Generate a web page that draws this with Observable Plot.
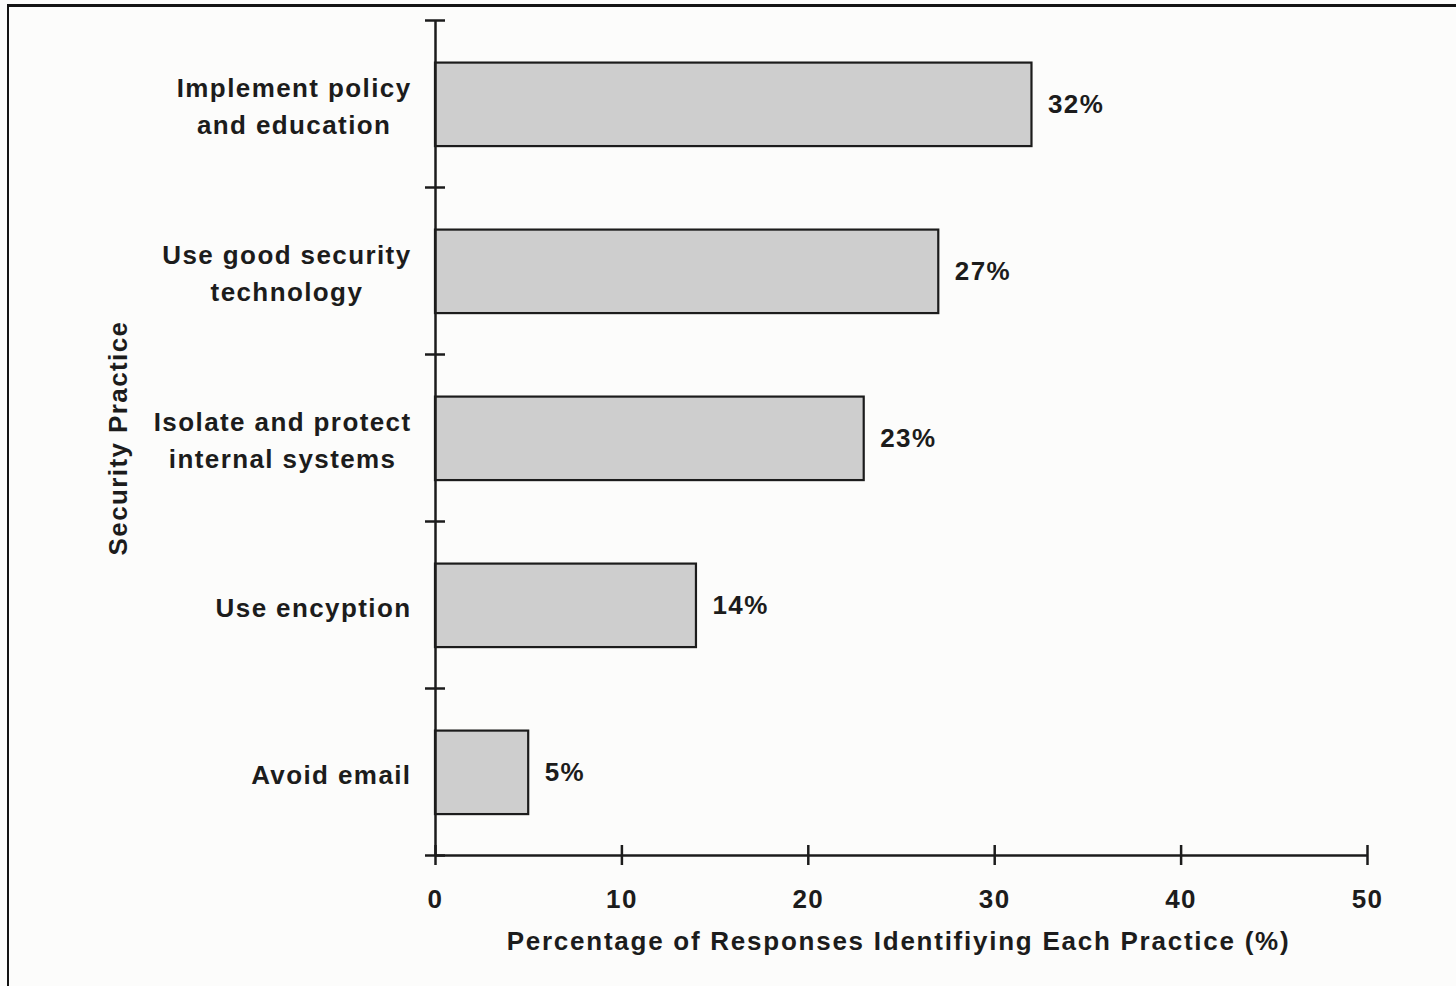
<!DOCTYPE html>
<html>
<head>
<meta charset="utf-8">
<script src="https://cdn.jsdelivr.net/npm/d3@7"></script>
<script src="https://cdn.jsdelivr.net/npm/@observablehq/plot@0.6"></script>
<style>
  html, body { margin: 0; padding: 0; background: #fcfcfb; }
  #wrap { position: relative; width: 1456px; height: 986px; overflow: hidden; }
  #frame {
    position: absolute; left: 7px; top: 4px; right: -10px; bottom: -10px;
    border-top: 3px solid #141414; border-left: 2px solid #141414;
    pointer-events: none;
  }
  #wrap svg text { letter-spacing: 1.4px; }
  #wrap svg g.title-x text { letter-spacing: 1.75px; }
</style>
</head>
<body>
<div id="wrap"><div id="frame"></div></div>
<script>
// Survey: which security practice respondents named
const categories = [
  "Implement policy\nand education",
  "Use good security\ntechnology",
  "Isolate and protect\ninternal systems",
  "Use encyption",
  "Avoid email"
];
const values = [32, 27, 23, 14, 5];
const xTicks = [0, 10, 20, 30, 40, 50];
const xTitle = "Percentage of Responses Identifiying Each Practice (%)";
const yTitle = "Security Practice";

const rows = categories.map((category, index) => ({category, index, value: values[index]}));
const bandEdges = d3.range(0, categories.length + 1);

const ink = "#1c1c1c";
const font = "'Liberation Sans', Arial, Helvetica, sans-serif";
const fontSize = 26;
const tracking = 1.4;

// width of the widest line of a label, so multi-line labels can be centred
const ctx = document.createElement("canvas").getContext("2d");
ctx.font = `bold ${fontSize}px ${font}`;
const blockWidth = (s) => d3.max(s.split("\n"), (line) => ctx.measureText(line).width + tracking * line.length);

const labelMarks = rows.map((r) =>
  Plot.text([r], {
    x: () => 0,
    y: (d) => d.index + 0.5,
    text: "category",
    textAnchor: "middle",
    lineAnchor: "middle",
    lineHeight: 1.42,
    dx: -(24 + blockWidth(r.category) / 2),
    fill: ink,
    fontSize,
    fontWeight: "bold"
  })
);

const chart = Plot.plot({
  width: 1456,
  height: 986,
  marginLeft: 435,
  marginRight: 89,
  marginTop: 20,
  marginBottom: 131,
  style: {background: "transparent", fontFamily: font, fontSize: `${fontSize}px`, color: ink},
  x: {domain: [0, 50], axis: null},
  y: {domain: [0, categories.length], reverse: true, axis: null},
  marks: [
    // bars
    Plot.rectX(rows, {
      x1: () => 0,
      x2: "value",
      y1: (d) => d.index + 0.255,
      y2: (d) => d.index + 0.755,
      fill: "#cecece",
      stroke: ink,
      strokeWidth: 2.2
    }),
    // axis lines
    Plot.ruleX([0], {stroke: ink, strokeWidth: 2.5}),
    Plot.ruleY([categories.length], {stroke: ink, strokeWidth: 2.5}),
    // ticks crossing the category axis at band edges
    Plot.ruleY(bandEdges, {y: (d) => d, x1: () => 0, x2: () => 0, insetLeft: -10, insetRight: -10, stroke: ink, strokeWidth: 2.5}),
    // ticks crossing the value axis
    Plot.ruleX(xTicks, {x: (d) => d, y1: () => categories.length, y2: () => categories.length, insetTop: -10, insetBottom: -10, stroke: ink, strokeWidth: 2.5}),
    Plot.axisX({ticks: xTicks, tickSize: 0, tickPadding: 34, fontSize, fontWeight: "bold", fill: ink, label: null}),
    // value labels
    Plot.text(rows, {
      x: "value",
      y: (d) => d.index + 0.5,
      text: (d) => `${d.value}%`,
      textAnchor: "start",
      dx: 16,
      dy: 1,
      fill: ink,
      fontSize,
      fontWeight: "bold"
    }),
    ...labelMarks,
    // axis titles
    Plot.text([xTitle], {
      frameAnchor: "bottom",
      text: (d) => d,
      textAnchor: "middle",
      lineAnchor: "middle",
      dx: -3,
      dy: 86,
      fill: ink,
      fontSize,
      fontWeight: "bold",
      className: "title-x"
    }),
    Plot.text([yTitle], {
      frameAnchor: "left",
      text: (d) => d,
      rotate: -90,
      textAnchor: "middle",
      lineAnchor: "middle",
      dx: -317,
      fill: ink,
      fontSize,
      fontWeight: "bold"
    })
  ]
});

document.getElementById("wrap").prepend(chart);
</script>
</body>
</html>
